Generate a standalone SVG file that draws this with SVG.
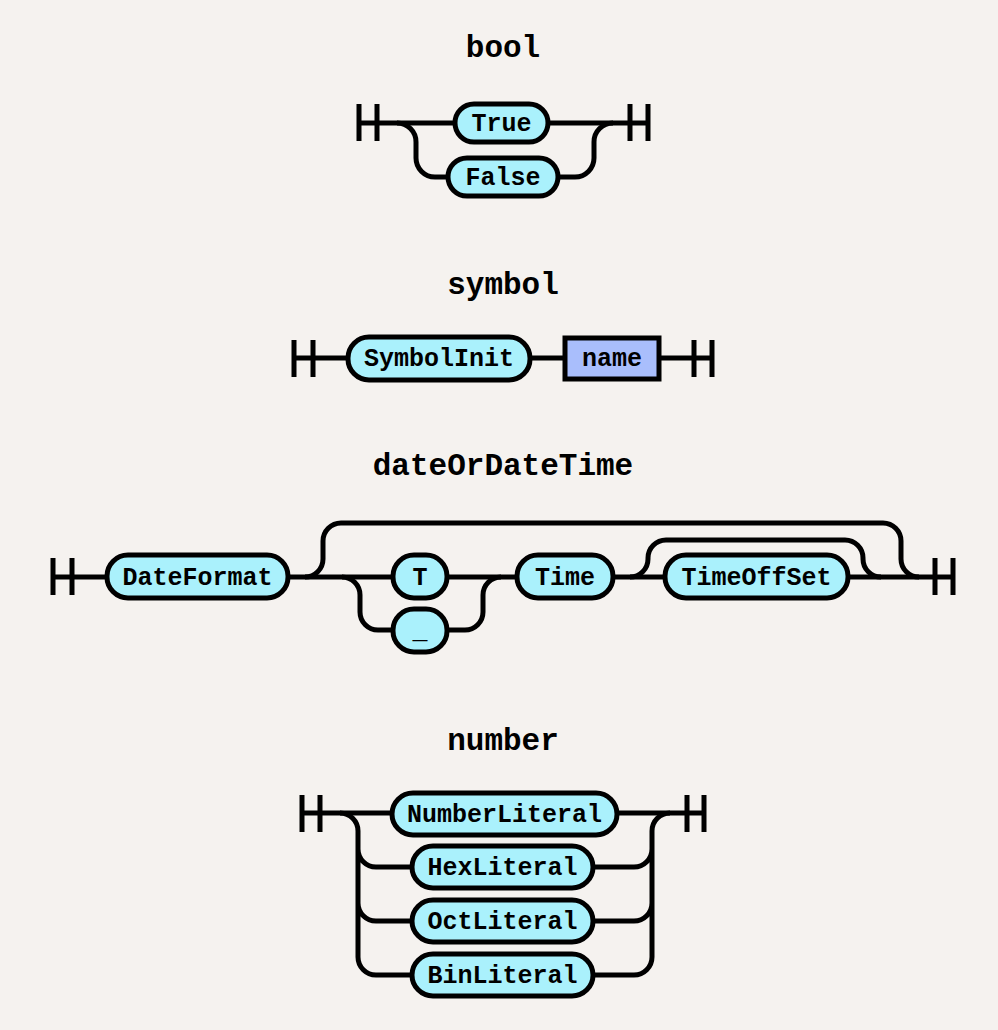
<svg xmlns="http://www.w3.org/2000/svg" width="998" height="1030" viewBox="0 0 998 1030">
<style>
.bg{fill:#f5f2ef}
.ln{fill:none;stroke:#000;stroke-width:5}
.term{fill:#aaf1fc;stroke:#000;stroke-width:5}
.nt{fill:#a9befc;stroke:#000;stroke-width:5}
.lbl{font-family:"Liberation Mono","Courier New",monospace;font-weight:bold;font-size:25px;text-anchor:middle;fill:#000}
.ttl{font-family:"Liberation Mono","Courier New",monospace;font-weight:bold;font-size:31px;text-anchor:middle;fill:#000}
</style>
<rect class="bg" x="0" y="0" width="998" height="1030"/>

<g id="titles">
<text class="ttl" x="503" y="57">bool</text>
<text class="ttl" x="503" y="294">symbol</text>
<text class="ttl" x="503" y="475">dateOrDateTime</text>
<text class="ttl" x="503" y="750">number</text>
</g>

<g id="connectors">
<!-- bool -->
<path class="ln" d="M359 104V141M377 104V141M359 123H455M548 123H648M630 104V141M648 104V141"/>
<path class="ln" d="M397 123A19 19 0 0 1 416 142V158A19 19 0 0 0 435 177H448"/>
<path class="ln" d="M558 177H575A19 19 0 0 0 594 158V142A19 19 0 0 1 613 123"/>
<!-- symbol -->
<path class="ln" d="M294 340V377M313 340V377M294 358H348M530 358H565M659 358H712M694 340V377M712 340V377"/>
<!-- dateOrDateTime -->
<path class="ln" d="M53 558V595M72 558V595M53 577H107M288 577H393M447 577H517M613 577H665M848 577H953M935 558V595M953 558V595"/>
<path class="ln" d="M305 577A18 18 0 0 0 323 559V541A18 18 0 0 1 341 523H883A18 18 0 0 1 901 541V559A18 18 0 0 0 919 577"/>
<path class="ln" d="M342 577A18 18 0 0 1 360 595V612A18 18 0 0 0 378 630H393"/>
<path class="ln" d="M447 630H465A18 18 0 0 0 483 612V595A18 18 0 0 1 501 577"/>
<path class="ln" d="M630 577A18 18 0 0 0 648 559V558A18 18 0 0 1 666 540H845A18 18 0 0 1 863 558V559A18 18 0 0 0 881 577"/>
<!-- number -->
<path class="ln" d="M302 795V832M320 795V832M302 813H392M617 813H704M687 795V832M704 795V832"/>
<path class="ln" d="M340 813A18 18 0 0 1 358 831V957A18 18 0 0 0 376 975H412M358 849A18 18 0 0 0 376 867H412M358 903A18 18 0 0 0 376 921H412"/>
<path class="ln" d="M593 975H634A18 18 0 0 0 652 957V831A18 18 0 0 1 670 813M593 867H634A18 18 0 0 0 652 849M593 921H634A18 18 0 0 0 652 903"/>
</g>

<g id="n-true"><rect class="term" x="455" y="104" width="93" height="38" rx="19"/><text class="lbl" x="501.5" y="131">True</text></g>
<g id="n-false"><rect class="term" x="448" y="158" width="110" height="38" rx="19"/><text class="lbl" x="503" y="185">False</text></g>

<g id="n-symbolinit"><rect class="term" x="348" y="337" width="182" height="43" rx="21"/><text class="lbl" x="439" y="366">SymbolInit</text></g>
<g id="n-name"><rect class="nt" x="565" y="338" width="94" height="41"/><text class="lbl" x="612" y="366">name</text></g>

<g id="n-dateformat"><rect class="term" x="107" y="555" width="181" height="43" rx="21"/><text class="lbl" x="197.5" y="585">DateFormat</text></g>
<g id="n-t"><rect class="term" x="393" y="555" width="54" height="43" rx="21"/><text class="lbl" x="420" y="585">T</text></g>
<g id="n-underscore"><rect class="term" x="393" y="609" width="54" height="43" rx="21"/><text class="lbl" x="420" y="638">_</text></g>
<g id="n-time"><rect class="term" x="517" y="555" width="96" height="43" rx="21"/><text class="lbl" x="565" y="585">Time</text></g>
<g id="n-timeoffset"><rect class="term" x="665" y="555" width="183" height="43" rx="21"/><text class="lbl" x="756.5" y="585">TimeOffSet</text></g>

<g id="n-numberliteral"><rect class="term" x="392" y="793" width="225" height="42" rx="21"/><text class="lbl" x="504.5" y="822">NumberLiteral</text></g>
<g id="n-hexliteral"><rect class="term" x="412" y="846" width="181" height="42" rx="21"/><text class="lbl" x="502.5" y="875">HexLiteral</text></g>
<g id="n-octliteral"><rect class="term" x="412" y="900" width="181" height="42" rx="21"/><text class="lbl" x="502.5" y="929">OctLiteral</text></g>
<g id="n-binliteral"><rect class="term" x="412" y="954" width="181" height="42" rx="21"/><text class="lbl" x="502.5" y="983">BinLiteral</text></g>
</svg>
